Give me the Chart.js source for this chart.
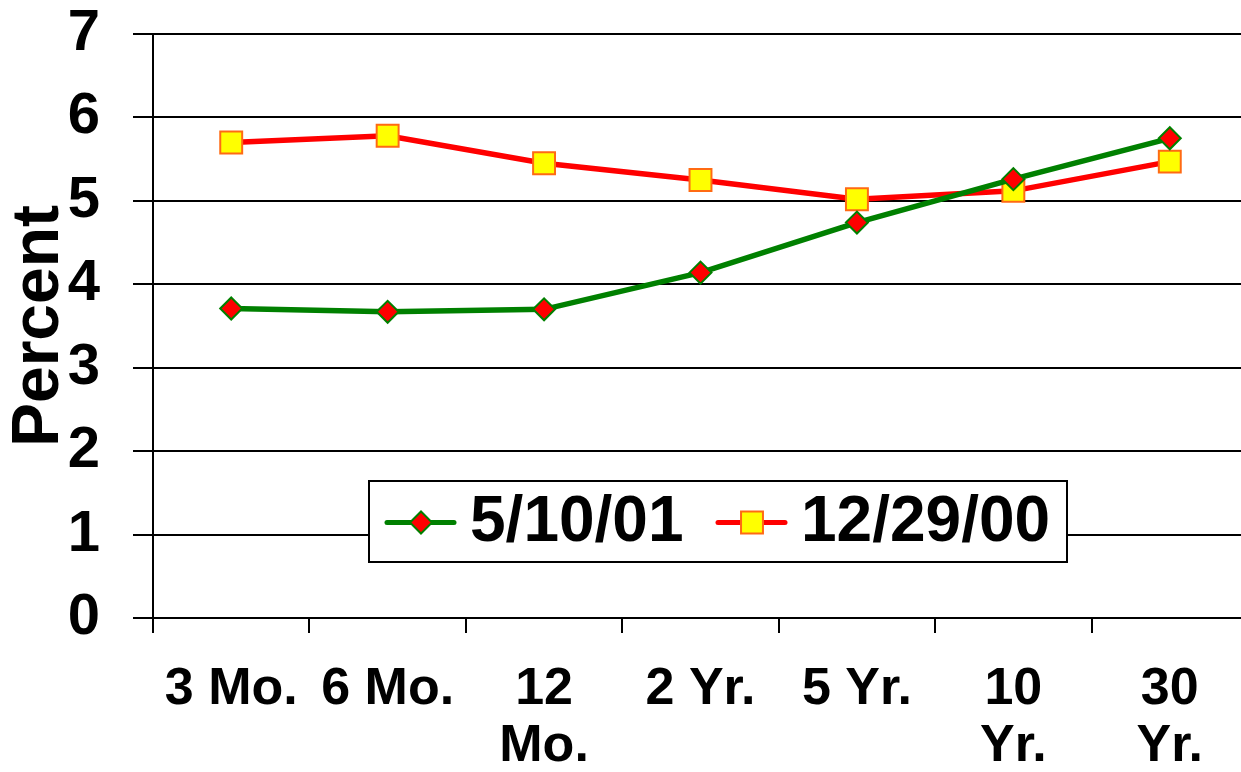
<!DOCTYPE html>
<html>
<head>
<meta charset="utf-8">
<script src="https://cdn.jsdelivr.net/npm/chart.js@4.4.1/dist/chart.umd.min.js"></script>
<style>
    html, body { margin: 0; padding: 0; background: #fff; overflow: hidden; }
    #wrap { width: 1250px; height: 772px; }
</style>
</head>
<body>
<div id="wrap"><canvas id="yieldChart" width="1250" height="772"></canvas></div>
<script>
const maturities = ['3 Mo.', '6 Mo.', ['12', 'Mo.'], '2 Yr.', '5 Yr.', ['10', 'Yr.'], ['30', 'Yr.']];
const may2001 = [3.71, 3.67, 3.70, 4.14, 4.74, 5.26, 5.75];
const dec2000 = [5.70, 5.78, 5.45, 5.25, 5.02, 5.12, 5.47];
const seriesLabels = ['5/10/01', '12/29/00'];
const yTicks = [0, 1, 2, 3, 4, 5, 6, 7];

const FONT = "'Liberation Sans', Arial, sans-serif";

// legend drawn as a framed box inside the plot, like the original slide
const boxLegend = {
    id: 'boxLegend',
    afterDatasetsDraw(chart) {
        const ctx = chart.ctx;
        const x0 = 369, y0 = 481, w = 698, h = 81;
        const cy = y0 + h / 2 + 1;
        ctx.save();
        ctx.fillStyle = '#fff';
        ctx.fillRect(x0, y0, w, h);
        ctx.strokeStyle = '#000';
        ctx.lineWidth = 2;
        ctx.strokeRect(x0, y0, w, h);

        const items = [{ x: 387 }, { x: 718 }];
        chart.data.datasets.forEach((ds, i) => {
            const sx = items[i].x;
            ctx.strokeStyle = ds.borderColor;
            ctx.lineWidth = 5;
            ctx.lineCap = 'round';
            ctx.beginPath();
            ctx.moveTo(sx, cy);
            ctx.lineTo(sx + 67, cy);
            ctx.stroke();
            ctx.fillStyle = ds.pointBackgroundColor;
            ctx.strokeStyle = ds.pointBorderColor;
            ctx.lineWidth = ds.pointBorderWidth;
            Chart.helpers.drawPoint(ctx, {
                pointStyle: ds.pointStyle,
                radius: ds.pointRadius,
                rotation: 0,
                borderWidth: ds.pointBorderWidth
            }, sx + 34, cy);
            ctx.fillStyle = '#000';
            ctx.font = 'bold 64px ' + FONT;
            ctx.textBaseline = 'middle';
            ctx.textAlign = 'left';
            ctx.fillText(ds.label, sx + 83, cy + 1);
        });
        ctx.restore();
    }
};

const ctx = document.getElementById('yieldChart').getContext('2d');
new Chart(ctx, {
    type: 'line',
    data: {
        labels: maturities,
        datasets: [{
            label: seriesLabels[0],
            data: may2001,
            borderColor: '#008000',
            borderWidth: 5.5,
            pointStyle: 'rectRot',
            pointRadius: 11,
            pointBackgroundColor: '#ff0000',
            pointBorderColor: '#008000',
            pointBorderWidth: 2,
            tension: 0
        }, {
            label: seriesLabels[1],
            data: dec2000,
            borderColor: '#ff0000',
            borderWidth: 5.5,
            pointStyle: 'rect',
            pointRadius: 15.5,
            pointBackgroundColor: '#ffff00',
            pointBorderColor: '#ff6a13',
            pointBorderWidth: 2,
            tension: 0
        }]
    },
    options: {
        responsive: false,
        animation: false,
        layout: { autoPadding: false, padding: { top: 34, right: 2 } },
        plugins: {
            legend: { display: false },
            tooltip: { enabled: false }
        },
        scales: {
            x: {
                offset: true,
                grid: {
                    offset: true,
                    drawOnChartArea: false,
                    color: '#000',
                    lineWidth: 2,
                    tickLength: 15
                },
                border: { display: false },
                ticks: {
                    color: '#000',
                    font: { family: FONT, size: 52, weight: 'bold', lineHeight: 1.08 },
                    padding: 29,
                    maxRotation: 0,
                    autoSkip: false
                },
                afterFit(scale) {
                    scale.height = 154;
                    scale.paddingLeft = 0;
                    scale.paddingRight = 0;
                }
            },
            y: {
                min: 0,
                max: 7,
                afterBuildTicks(scale) { scale.ticks = yTicks.map(v => ({ value: v })); },
                grid: {
                    color: '#000',
                    lineWidth: 2,
                    tickLength: 20
                },
                border: { color: '#000', width: 2 },
                ticks: {
                    color: '#000',
                    font: { family: FONT, size: 58, weight: 'bold' },
                    padding: 33
                },
                title: {
                    display: true,
                    text: 'Percent',
                    color: '#000',
                    font: { family: FONT, size: 66, weight: 'bold' },
                    padding: 0
                },
                afterFit(scale) {
                    scale.width = 153;
                    scale.paddingTop = 0;
                    scale.paddingBottom = 0;
                }
            }
        }
    },
    plugins: [boxLegend]
});
</script>
</body>
</html>
